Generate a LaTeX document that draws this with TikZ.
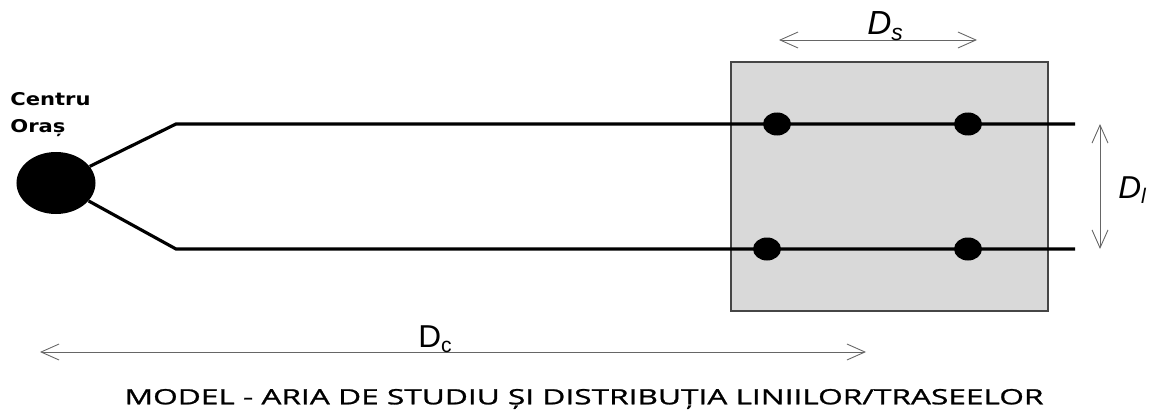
\documentclass[tikz,border=0pt]{standalone}
\usepackage{fontspec}
\setmainfont{Liberation Sans}
\newfontfamily\labelfont[FakeStretch=1.2]{DejaVu Sans}
\newfontfamily\captionfont[FakeStretch=1.5, FakeBold=1.2]{Open Sans}
\usetikzlibrary{arrows.meta, positioning, calc, shapes.geometric}
\definecolor{areagray}{RGB}{217,217,217}
\definecolor{edgegray}{RGB}{70,70,70}
\tikzset{
    route/.style={line width=1.8pt, black},
    dim/.style={{Straight Barb[length=3.6mm,width=3.2mm]}-{Straight Barb[length=3.6mm,width=3.2mm]}, gray!80!black, line width=0.5pt},
    stop/.style={fill, ellipse, minimum width=5.6mm, minimum height=4.6mm, inner sep=0pt},
    area/.style={fill=areagray, draw=edgegray, line width=1.1pt},
    dimlabel/.style={font=\fontsize{18}{20}\selectfont, inner sep=0pt, anchor=base west},
    sublabel/.style={font=\fontsize{12}{14}\selectfont}
}
\begin{document}
\begin{tikzpicture}[x=0.2mm, y=-0.2mm]
    \useasboundingbox (0,0) rectangle (1162,412);
    % study area
    \draw[area] (731,62) rectangle (1048,311);
    % city centre
    \node[fill, ellipse, minimum width=15.8mm, minimum height=12.4mm, inner sep=0pt] (centru) at (56,183) {};
    \node[anchor=base west, inner sep=0pt, font=\labelfont\bfseries\fontsize{10}{12}\selectfont] (centrul) at (10,106) {Centru};
    \node[anchor=base west, inner sep=0pt, font=\labelfont\bfseries\fontsize{10}{12}\selectfont] (oras) at (10,133) {Oraș};
    % routes
    \coordinate (b1) at (176,124);
    \coordinate (b2) at (176,249);
    \coordinate (e1) at (1075,124);
    \coordinate (e2) at (1075,249);
    \draw[route] (centru) -- (b1) -- (e1);
    \draw[route] (centru) -- (b2) -- (e2);
    % stops
    \node[stop] (s11) at (777,124) {};
    \node[stop] (s12) at (968,124) {};
    \node[stop] (s21) at (767,249) {};
    \node[stop] (s22) at (968,249) {};
    % distances
    \coordinate (ds1) at (779,40);
    \coordinate (ds2) at (977,40);
    \draw[dim] (ds1) -- (ds2);
    \node[dimlabel, font=\fontsize{19}{21}\selectfont] (dslabel) at (867,35) {\textit{D}\raisebox{-0.3ex}{\fontsize{13}{15}\selectfont\textit{s}}};
    \coordinate (dl1) at (1100,124);
    \coordinate (dl2) at (1100,249);
    \draw[dim] (dl1) -- (dl2);
    \node[dimlabel] (dllabel) at (1118,198) {\textit{D}\raisebox{-0.3ex}{\fontsize{12}{14}\selectfont\textit{l}}};
    \coordinate (dc1) at (40,352);
    \coordinate (dc2) at (866,352);
    \draw[dim] (dc1) -- (dc2);
    \node[dimlabel] (dclabel) at (418,347) {D\raisebox{-0.3ex}{\fontsize{12}{14}\selectfont c}};
    % caption
    \node[font=\captionfont\fontsize{12}{14}\selectfont] (titlu) at (584,399) {MODEL - ARIA DE STUDIU ȘI DISTRIBUȚIA LINIILOR/TRASEELOR};
\end{tikzpicture}
\end{document}
